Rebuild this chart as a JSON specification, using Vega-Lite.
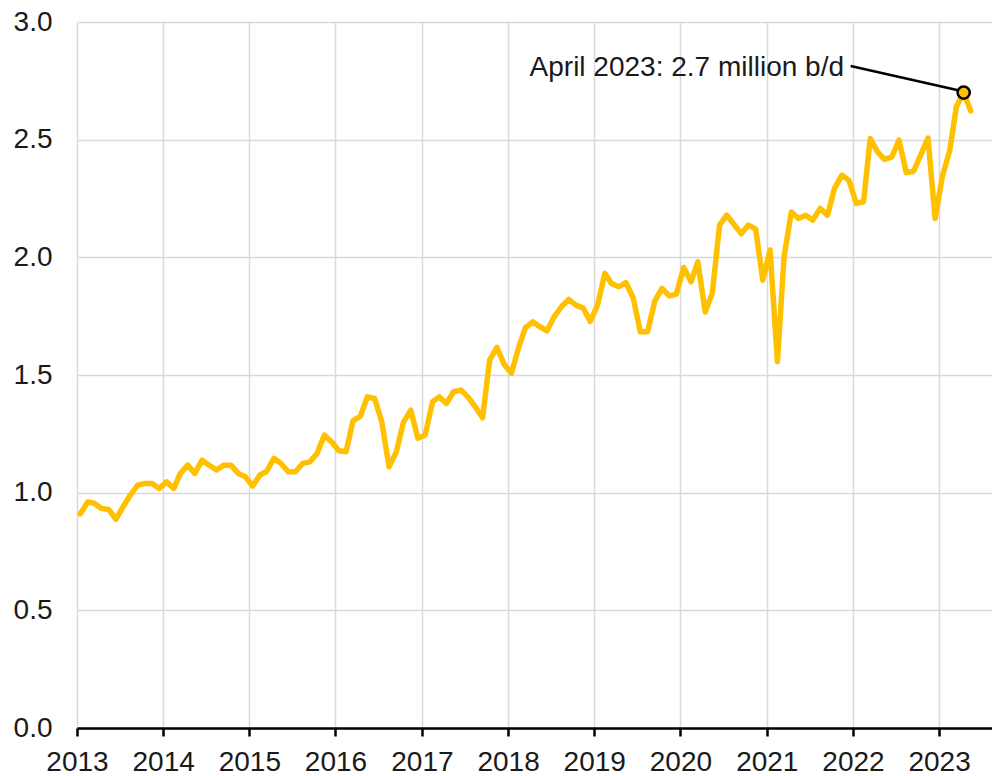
{
  "$schema": "https://vega.github.io/schema/vega-lite/v6.json",
  "autosize": {"type": "none"},
  "padding": {"left": 77, "top": 22, "right": 0, "bottom": 48},
  "width": 915,
  "height": 706,
  "background": "white",
  "config": {
    "view": {"stroke": null},
    "font": "Liberation Sans",
    "axis": {"labelFont": "Liberation Sans", "labelFontSize": 28, "labelColor": "#1a1a1a", "gridColor": "#d9d9d9", "gridWidth": 1.5, "title": null}
  },
  "datasets": {
    "series": [
      {"date": "2013-01-15", "value": 0.91}, {"date": "2013-02-15", "value": 0.96}, {"date": "2013-03-15", "value": 0.955}, {"date": "2013-04-15", "value": 0.933}, {"date": "2013-05-15", "value": 0.929}, {"date": "2013-06-15", "value": 0.887}, {"date": "2013-07-15", "value": 0.94}, {"date": "2013-08-15", "value": 0.99}, {"date": "2013-09-15", "value": 1.032}, {"date": "2013-10-15", "value": 1.039}, {"date": "2013-11-15", "value": 1.039}, {"date": "2013-12-15", "value": 1.018},
      {"date": "2014-01-15", "value": 1.046}, {"date": "2014-02-15", "value": 1.018}, {"date": "2014-03-15", "value": 1.082}, {"date": "2014-04-15", "value": 1.117}, {"date": "2014-05-15", "value": 1.082}, {"date": "2014-06-15", "value": 1.138}, {"date": "2014-07-15", "value": 1.117}, {"date": "2014-08-15", "value": 1.096}, {"date": "2014-09-15", "value": 1.117}, {"date": "2014-10-15", "value": 1.117}, {"date": "2014-11-15", "value": 1.082}, {"date": "2014-12-15", "value": 1.068},
      {"date": "2015-01-15", "value": 1.028}, {"date": "2015-02-15", "value": 1.075}, {"date": "2015-03-15", "value": 1.09}, {"date": "2015-04-15", "value": 1.146}, {"date": "2015-05-15", "value": 1.124}, {"date": "2015-06-15", "value": 1.089}, {"date": "2015-07-15", "value": 1.089}, {"date": "2015-08-15", "value": 1.124}, {"date": "2015-09-15", "value": 1.131}, {"date": "2015-10-15", "value": 1.167}, {"date": "2015-11-15", "value": 1.245}, {"date": "2015-12-15", "value": 1.216},
      {"date": "2016-01-15", "value": 1.178}, {"date": "2016-02-15", "value": 1.174}, {"date": "2016-03-15", "value": 1.305}, {"date": "2016-04-15", "value": 1.325}, {"date": "2016-05-15", "value": 1.407}, {"date": "2016-06-15", "value": 1.4}, {"date": "2016-07-15", "value": 1.3}, {"date": "2016-08-15", "value": 1.11}, {"date": "2016-09-15", "value": 1.174}, {"date": "2016-10-15", "value": 1.3}, {"date": "2016-11-15", "value": 1.351}, {"date": "2016-12-15", "value": 1.231},
      {"date": "2017-01-15", "value": 1.245}, {"date": "2017-02-15", "value": 1.386}, {"date": "2017-03-15", "value": 1.407}, {"date": "2017-04-15", "value": 1.379}, {"date": "2017-05-15", "value": 1.429}, {"date": "2017-06-15", "value": 1.436}, {"date": "2017-07-15", "value": 1.407}, {"date": "2017-08-15", "value": 1.365}, {"date": "2017-09-15", "value": 1.318}, {"date": "2017-10-15", "value": 1.563}, {"date": "2017-11-15", "value": 1.617}, {"date": "2017-12-15", "value": 1.546},
      {"date": "2018-01-15", "value": 1.507}, {"date": "2018-02-15", "value": 1.617}, {"date": "2018-03-15", "value": 1.7}, {"date": "2018-04-15", "value": 1.726}, {"date": "2018-05-15", "value": 1.705}, {"date": "2018-06-15", "value": 1.688}, {"date": "2018-07-15", "value": 1.747}, {"date": "2018-08-15", "value": 1.79}, {"date": "2018-09-15", "value": 1.821}, {"date": "2018-10-15", "value": 1.797}, {"date": "2018-11-15", "value": 1.785}, {"date": "2018-12-15", "value": 1.728},
      {"date": "2019-01-15", "value": 1.797}, {"date": "2019-02-15", "value": 1.932}, {"date": "2019-03-15", "value": 1.889}, {"date": "2019-04-15", "value": 1.875}, {"date": "2019-05-15", "value": 1.893}, {"date": "2019-06-15", "value": 1.828}, {"date": "2019-07-15", "value": 1.684}, {"date": "2019-08-15", "value": 1.684}, {"date": "2019-09-15", "value": 1.815}, {"date": "2019-10-15", "value": 1.868}, {"date": "2019-11-15", "value": 1.836}, {"date": "2019-12-15", "value": 1.844},
      {"date": "2020-01-15", "value": 1.957}, {"date": "2020-02-15", "value": 1.896}, {"date": "2020-03-15", "value": 1.981}, {"date": "2020-04-15", "value": 1.768}, {"date": "2020-05-15", "value": 1.847}, {"date": "2020-06-15", "value": 2.137}, {"date": "2020-07-15", "value": 2.179}, {"date": "2020-08-15", "value": 2.14}, {"date": "2020-09-15", "value": 2.1}, {"date": "2020-10-15", "value": 2.137}, {"date": "2020-11-15", "value": 2.12}, {"date": "2020-12-15", "value": 1.903},
      {"date": "2021-01-15", "value": 2.031}, {"date": "2021-02-15", "value": 1.556}, {"date": "2021-03-15", "value": 2.0}, {"date": "2021-04-15", "value": 2.193}, {"date": "2021-05-15", "value": 2.165}, {"date": "2021-06-15", "value": 2.179}, {"date": "2021-07-15", "value": 2.158}, {"date": "2021-08-15", "value": 2.208}, {"date": "2021-09-15", "value": 2.179}, {"date": "2021-10-15", "value": 2.293}, {"date": "2021-11-15", "value": 2.349}, {"date": "2021-12-15", "value": 2.328},
      {"date": "2022-01-15", "value": 2.229}, {"date": "2022-02-15", "value": 2.236}, {"date": "2022-03-15", "value": 2.505}, {"date": "2022-04-15", "value": 2.448}, {"date": "2022-05-15", "value": 2.416}, {"date": "2022-06-15", "value": 2.427}, {"date": "2022-07-15", "value": 2.498}, {"date": "2022-08-15", "value": 2.36}, {"date": "2022-09-15", "value": 2.366}, {"date": "2022-10-15", "value": 2.434}, {"date": "2022-11-15", "value": 2.507}, {"date": "2022-12-15", "value": 2.165},
      {"date": "2023-01-15", "value": 2.345}, {"date": "2023-02-15", "value": 2.455}, {"date": "2023-03-15", "value": 2.64}, {"date": "2023-04-15", "value": 2.7}, {"date": "2023-05-15", "value": 2.622}
    ],
    "callout": [
      {"date": "2021-12-22", "value": 2.813, "date2": "2023-04-15", "value2": 2.705, "label": "April 2023: 2.7 million b/d", "labelDate": "2021-11-24", "labelValue": 2.772, "pointDate": "2023-04-15", "pointValue": 2.7}
    ]
  },
  "layer": [
    {
      "data": {"name": "series"},
      "mark": {"type": "line", "color": "#FFC000", "strokeWidth": 5.5, "strokeJoin": "round", "strokeCap": "round"},
      "encoding": {
        "x": {
          "field": "date", "type": "temporal",
          "scale": {"domain": [{"year": 2013, "month": 1, "date": 1}, {"year": 2023, "month": 8, "date": 13}], "nice": false},
          "axis": {"format": "%Y", "tickCount": "year", "grid": true, "domain": true, "domainColor": "#000000", "domainWidth": 2.5, "ticks": true, "tickColor": "#000000", "tickWidth": 2.5, "tickSize": 8, "labelPadding": 12, "labelAlign": "center", "labelFlush": false, "labelOverlap": false}
        },
        "y": {
          "field": "value", "type": "quantitative",
          "scale": {"domain": [0, 3], "nice": false, "zero": true},
          "axis": {"values": [0, 0.5, 1, 1.5, 2, 2.5, 3], "format": ".1f", "grid": true, "domain": false, "ticks": false, "labelPadding": 25}
        }
      }
    },
    {
      "data": {"name": "callout"},
      "mark": {"type": "rule", "color": "#000000", "strokeWidth": 2.5},
      "encoding": {
        "x": {"field": "date", "type": "temporal"},
        "y": {"field": "value", "type": "quantitative"},
        "x2": {"field": "date2"},
        "y2": {"field": "value2"}
      }
    },
    {
      "data": {"name": "callout"},
      "mark": {"type": "point", "shape": "circle", "filled": true, "fill": "#FFC000", "stroke": "#000000", "strokeWidth": 2.5, "size": 150, "opacity": 1},
      "encoding": {
        "x": {"field": "pointDate", "type": "temporal"},
        "y": {"field": "pointValue", "type": "quantitative"}
      }
    },
    {
      "data": {"name": "callout"},
      "mark": {"type": "text", "align": "right", "baseline": "alphabetic", "font": "Liberation Sans", "fontSize": 28, "color": "#1a1a1a"},
      "encoding": {
        "x": {"field": "labelDate", "type": "temporal"},
        "y": {"field": "labelValue", "type": "quantitative"},
        "text": {"field": "label"}
      }
    }
  ]
}
